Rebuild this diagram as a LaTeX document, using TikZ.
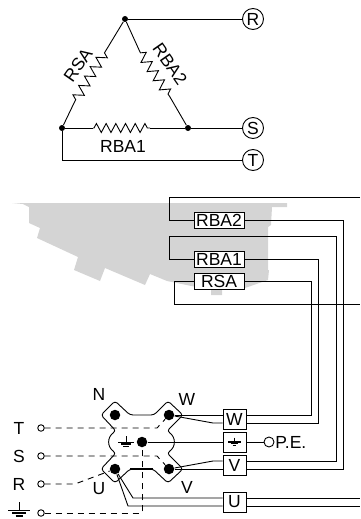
\documentclass[tikz,border=0pt]{standalone}
\usepackage{xcolor}
\usepackage{fontspec}
\setmainfont{Liberation Sans}
\usetikzlibrary{calc,decorations.pathmorphing}
\definecolor{panelgrey}{gray}{0.83}
\tikzset{>=stealth,
  lab/.style={inner sep=0pt,font=\fontsize{17.5}{18}\selectfont},
  term/.style={draw,circle,inner sep=0pt,minimum size=21pt,lab},
  tbox/.style={draw,fill=white,inner sep=0pt,minimum width=50pt,minimum height=16pt,lab},
  cbox/.style={draw,fill=white,inner sep=0pt,minimum width=23pt,minimum height=20pt,lab},
  res/.style={decorate,decoration={zigzag,segment length=11pt,amplitude=5pt,pre length=1pt,post length=1pt}},
  flatres/.style={decorate,decoration={zigzag,segment length=9.7pt,amplitude=4.5pt,pre length=1pt,post length=1pt}},
  open/.style={draw,circle,fill=white,inner sep=0pt,minimum size=6.5pt},
  dot/.style={fill,circle,inner sep=0pt,minimum size=6pt},
  bigdot/.style={fill,circle,inner sep=0pt,minimum size=10.5pt},
  feed/.style={dash pattern=on 6pt off 5pt},
  pics/earth/.style={code={
    \draw (0,-8)--(0,0);
    \draw (-11,0)--(11,0);
    \draw[line width=1.4pt] (-7,3)--(7,3);
    \draw[line width=1.4pt] (-3.5,6)--(3.5,6);
  }}
}
\begin{document}
\begin{tikzpicture}[x=1pt,y=-1pt,line width=0.9pt]
    \useasboundingbox (0,0) rectangle (360,519);

    % triangle
    \node[dot] at (125,19) (top) {};
    \node[dot] at (62,128) (left) {};
    \node[dot] at (188,128) (right) {};
    \node[term] at (253,19) (R) {R};
    \node[term] at (253,128) (S) {S};
    \node[term] at (253,160) (T) {T};
    \coordinate (rsaa) at (105,52);
    \coordinate (rsab) at (75,101);
    \coordinate (rbbaa) at (140,52);
    \coordinate (rbbab) at (170,97);
    \coordinate (rbcaa) at (93,128);
    \coordinate (rbcab) at (150,128);
    \draw (top)--(rsaa);
    \draw[res] (rsaa)--(rsab);
    \draw (rsab)--(left);
    \draw (top)--(rbbaa);
    \draw[res] (rbbaa)--(rbbab);
    \draw (rbbab)--(right);
    \draw (left)--(rbcaa);
    \draw[flatres] (rbcaa)--(rbcab);
    \draw (rbcab)--(right);
    \draw (top)--(R);
    \draw (right)--(S);
    \draw (left)--(62,160)--(T);
    \node[lab,rotate=55] at (78,65) (rsalab) {RSA};
    \node[lab,rotate=-55] at (170,64) (rbbalab) {RBA2};
    \node[lab] at (123,146) (rbcalab) {RBA1};

    % shaded part
    \fill[panelgrey] (12,203)--(23,204)--(29,207)--(29,223)--(40,228)--(37,238)--(78,257)--(74,270)
      --(100,281)--(105,268)--(145,285)--(150,274)--(167,281)--(211,290)--(211,295)--(222,295)
      --(222,290)--(245,288)--(268,280)--(269,270)--(268,270)--(268,227)--(271,225)--(272,207)
      --(287,207)--(287,203)--cycle;

    % connection boxes
    \node[tbox] at (219,220) (rbbabox) {RBA2};
    \node[tbox] at (219,259) (rbcabox) {RBA1};
    \node[tbox] at (219,281) (rsabox) {RSA};
    \node[cbox] at (234.5,419) (wbox) {W};
    \node[cbox] at (234.5,442) (pebox) {};
    \node[cbox] at (234.5,465) (vbox) {V};
    \node[cbox] at (234.5,502) (ubox) {U};
    \pic[scale=0.55,line width=1.4pt] at (234.5,442) {earth};

    % terminal block
    \draw[rounded corners=3pt] (115,401)--(101,415)--(116,431)
      .. controls (107,437) and (107,447) .. (116,453)
      --(101,469)--(115,483)--(130,469)--(153,469)--(168,483)--(183,469)--(167,453)
      .. controls (176,447) and (176,437) .. (167,431)
      --(183,415)--(168,401)--(154,415)--(130,415)--cycle;
    \draw[line width=1.6pt] (130,469)--(153,469);
    \node[bigdot] at (115,415) (n) {};
    \node[bigdot] at (169,415) (w) {};
    \node[bigdot] at (142,442) (e) {};
    \node[bigdot] at (115,469) (u) {};
    \node[bigdot] at (169,469) (v) {};
    \pic[scale=0.72] at (126,442) {earth};
    \node[lab] at (99,394) (nlab) {N};
    \node[lab] at (187,399) (wlab) {W};
    \node[lab] at (99,489) (ulab) {U};
    \node[lab] at (187,487) (vlab) {V};

    % wires
    \draw (360,197)--(169,197)--(169,220)--(rbbabox.west);
    \draw (rbbabox.east)--(343,220)--(343,469)--($(vbox.east)+(0,4)$);
    \draw (rbcabox.west)--(169,259)--(169,236)--(336,236)--(336,461)--($(vbox.east)+(0,-4)$);
    \draw (rbcabox.east)--(318,259)--(318,423)--($(wbox.east)+(0,4)$);
    \draw (rsabox.east)--(311,281)--(311,415)--($(wbox.east)+(0,-4)$);
    \draw (rsabox.west)--(174,281)--(174,304)--(360,304);
    \draw (w)--($(wbox.west)+(0,-4)$);
    \draw (w)--(213,423)--($(wbox.west)+(0,4)$);
    \draw (v)--($(vbox.west)+(0,4)$);
    \draw (v)--(213,461)--($(vbox.west)+(0,-4)$);
    \draw (u)--(133,498)--($(ubox.west)+(0,-4)$);
    \draw (u)--(128,506)--($(ubox.west)+(0,4)$);
    \draw ($(ubox.east)+(0,-4)$)--(360,498);
    \draw ($(ubox.east)+(0,4)$)--(360,506);
    \draw (e)--(pebox);
    \node[draw,circle,inner sep=0pt,minimum size=10pt] at (269,442) (pe) {};
    \draw (pebox)--(pe);
    \node[lab,anchor=west] at (275,442) (pelab) {P.E.};

    % feeders
    \node[open] at (41,428) (tin) {};
    \node[open] at (41,456) (sin) {};
    \node[open] at (41,484) (rin) {};
    \node[open] at (41,513) (gin) {};
    \draw[feed] (tin)--(157,428)--(w);
    \draw[feed] (sin)--(157,456)--(v);
    \draw[feed] (rin)--(75,484)--(u);
    \draw[feed] (gin)--(142,513)--(e);
    \node[lab] at (19,428) (tlab) {T};
    \node[lab] at (19,456) (slab) {S};
    \node[lab] at (19,484) (rlab) {R};
    \pic at (19,510) {earth};
\end{tikzpicture}
\end{document}
